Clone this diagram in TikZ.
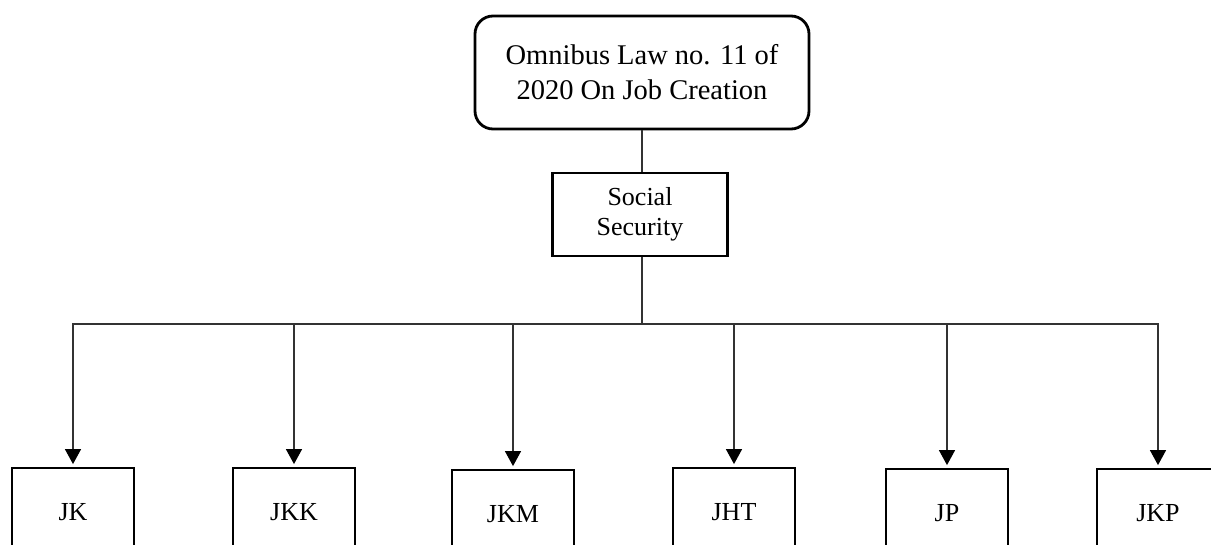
\documentclass[tikz,border=0pt]{standalone}
\usepackage{fontspec}
\setmainfont{Liberation Serif}
\usetikzlibrary{arrows.meta}
\tikzset{
  topbox/.style={draw, line width=2.8pt, rounded corners=18pt, minimum width=334pt, minimum height=113pt, inner sep=0pt, align=center, font=\fontsize{28.5}{35}\selectfont},
  midbox/.style={draw, line width=2.8pt, minimum width=175pt, minimum height=83pt, inner sep=0pt, align=center, font=\fontsize{26}{30}\selectfont},
  leafbox/.style={draw, line width=2.8pt, minimum width=122pt, minimum height=88pt, inner sep=0pt, font=\fontsize{26}{30}\selectfont},
  conn/.style={draw=black!80, line width=1.3pt},
  arr/.style={conn, shorten >=2.5pt, -{Triangle[width=16pt,length=15pt,black]}}
}
\begin{document}
\begin{tikzpicture}[x=1pt,y=-1pt]
\useasboundingbox (0,0) rectangle (1211,545);
\clip (0,0) rectangle (1211,545);
\fill[white] (0,0) rectangle (1211,545);
\node[topbox] (law) at (642,72.5) {Omnibus Law no. 11 of\\2020 On Job Creation};
\node[midbox] (ss) at (640,214.5) {Social\\Security};
\coordinate (h) at (642,324);
\node[leafbox] (jk)  at (73,512)   {JK};
\node[leafbox] (jkk) at (294,512)  {JKK};
\node[leafbox] (jkm) at (513,514)  {JKM};
\node[leafbox] (jht) at (734,512)  {JHT};
\node[leafbox] (jp)  at (947,513)  {JP};
\node[leafbox] (jkp) at (1158,513) {JKP};
\draw[conn] (law.south -| h) -- (ss.north -| h);
\draw[conn] (ss.south -| h) -- (h);
\foreach \n in {jk,jkk,jkm,jht,jp,jkp}{
  \draw[arr] (h) -| (\n.north);
}
\end{tikzpicture}
\end{document}
